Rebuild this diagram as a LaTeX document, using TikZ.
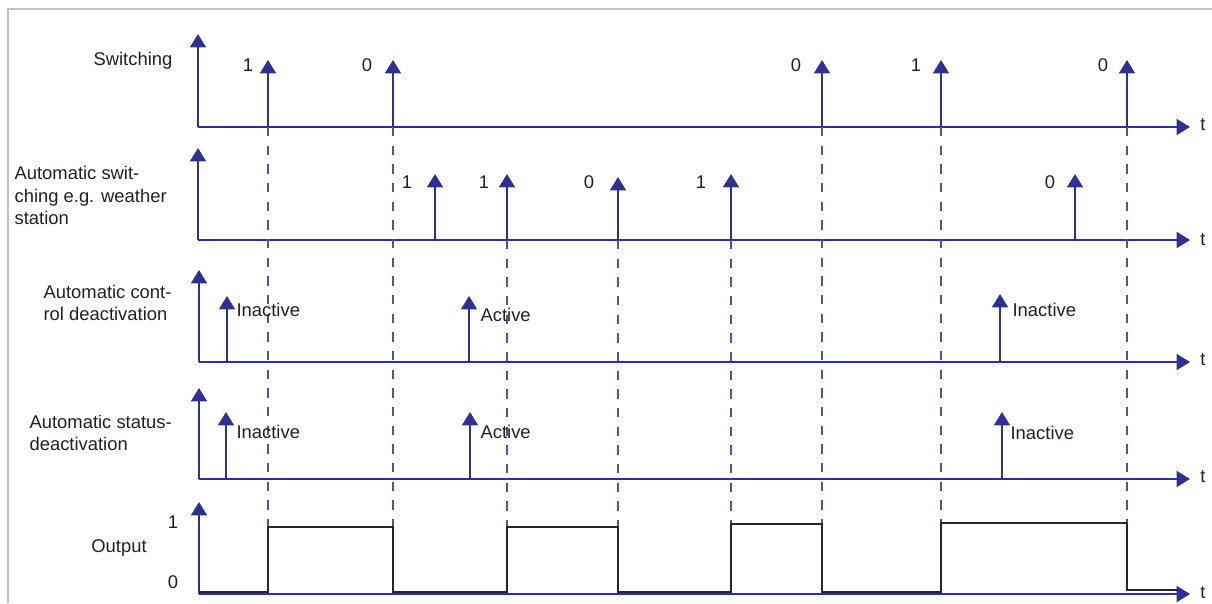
\documentclass[tikz,border=0pt]{standalone}
\usepackage{fontspec}
\setmainfont{Liberation Sans}
\usetikzlibrary{arrows.meta,positioning}
\definecolor{ink}{HTML}{231F20}
\definecolor{signal}{HTML}{2E3192}
\definecolor{guide}{HTML}{4F52A6}
\definecolor{frame}{HTML}{C2C2C2}
\newcommand{\lbl}{\fontsize{13.8}{16.8}\selectfont}
\tikzset{
 every node/.append style={font=\lbl,text=ink,inner sep=1pt},
 axis/.style={-{Triangle[length=10pt,width=12pt]},draw=signal,line width=1.2pt},
 pulse/.style={-{Triangle[length=10pt,width=12pt]},draw=signal,line width=1.2pt},
 guideline/.style={draw=guide,line width=.8pt,dash pattern=on 7pt off 7pt},
 level/.style={draw=black!85,line width=1.9pt},
 border/.style={draw=frame,line width=1.3pt},
 rowname/.style={align=left,anchor=west},
 tag/.style={anchor=west},
}

\begin{document}
\begin{tikzpicture}[x=.75pt,y=-.75pt]

\useasboundingbox (0,0) rectangle (1212,603);
\draw[border] (8,603) -- (8,9) -- (1212,9);
% row origins
\coordinate (o1) at (198,127); \coordinate (o2) at (198,240); \coordinate (o3) at (199,362); \coordinate (o4) at (199,479); \coordinate (o5) at (199,594);
% row names
\node[anchor=west] (switching) at (92,61) {Switching};
\node[rowname] (weather) at (13,195.5) {Automatic swit-\\ching e.g. weather\\station};
\node[rowname] (control) at (42,303) {Automatic cont-\\rol deactivation};
\node[rowname] (status) at (28,433) {Automatic status-\\deactivation};
\node (output) at (119,548) {Output};
\node (one) at (173,522) {1}; \node (zero) at (173,582) {0};
% axes
\draw[axis] (o1) -- (198,34); \draw[axis] (o1) -- (1190,127); \node (t1) at (1203,125) {t};
\draw[axis] (o2) -- (198,148); \draw[axis] (o2) -- (1190,240); \node (t2) at (1203,240) {t};
\draw[axis] (o3) -- (199,270); \draw[axis] (o3) -- (1190,362); \node (t3) at (1203,360) {t};
\draw[axis] (o4) -- (199,388); \draw[axis] (o4) -- (1190,479); \node (t4) at (1203,477) {t};
\draw[axis] (o5) -- (199,502); \draw[axis] (o5) -- (1190,594); \node (t5) at (1203,593) {t};
% guides
\draw[guideline] (268,127) -- (268,527); \draw[guideline] (393,127) -- (393,527);
\draw[guideline] (507,240) -- (507,527); \draw[guideline] (618,240) -- (618,527);
\draw[guideline] (731,240) -- (731,524); \draw[guideline] (822,127) -- (822,524);
\draw[guideline] (941,127) -- (941,523); \draw[guideline] (1127,127) -- (1127,523);
% switching
\draw[pulse] (268,127) -- (268,60); \node (s1) at (248,65) {1};
\draw[pulse] (393,127) -- (393,60); \node (s2) at (367,65) {0};
\draw[pulse] (822,127) -- (822,60); \node (s3) at (796,65) {0};
\draw[pulse] (941,127) -- (941,60); \node (s4) at (916,65) {1};
\draw[pulse] (1127,127) -- (1127,60); \node (s5) at (1103,65) {0};
% weather station
\draw[pulse] (435,240) -- (435,174); \node (w1) at (407,182) {1};
\draw[pulse] (507,240) -- (507,174); \node (w2) at (484,182) {1};
\draw[pulse] (618,240) -- (618,177); \node (w3) at (589,182) {0};
\draw[pulse] (731,240) -- (731,174); \node (w4) at (701,182) {1};
\draw[pulse] (1075,240) -- (1075,174); \node (w5) at (1050,182) {0};
% control deactivation
\draw[pulse] (227,362) -- (227,296); \node[tag] (c1) at (235,310) {Inactive};
\draw[pulse] (469,362) -- (469,296); \node[tag] (c2) at (479,315) {Active};
\draw[pulse] (1000,362) -- (1000,294); \node[tag] (c3) at (1011,310) {Inactive};
% status deactivation
\draw[pulse] (226,479) -- (226,412); \node[tag] (d1) at (235,432) {Inactive};
\draw[pulse] (470,479) -- (470,412); \node[tag] (d2) at (479,432) {Active};
\draw[pulse] (1002,479) -- (1002,412); \node[tag] (d3) at (1009,433) {Inactive};
% output
\draw[level] (199,592) -- (268,592) -- (268,527) -- (393,527) -- (393,592) -- (507,592) -- (507,527) -- (618,527) -- (618,592) -- (731,592) -- (731,524) -- (822,524) -- (822,592) -- (941,592) -- (941,523) -- (1127,523) -- (1127,590) -- (1178,590);

\end{tikzpicture}
\end{document}
